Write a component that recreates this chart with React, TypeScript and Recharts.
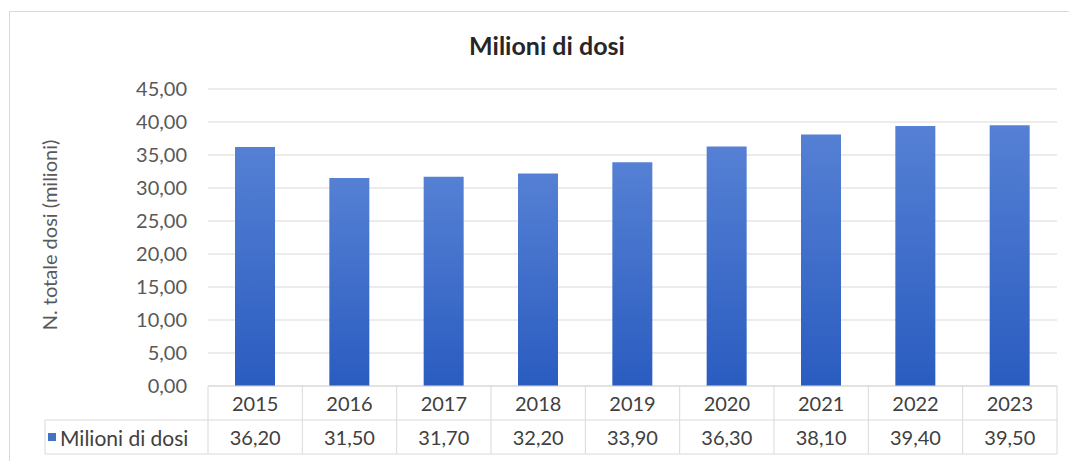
import { BarChart, Bar, XAxis, YAxis, CartesianGrid } from "recharts";

const years = ["2015", "2016", "2017", "2018", "2019", "2020", "2021", "2022", "2023"];
const doses = [36.2, 31.5, 31.7, 32.2, 33.9, 36.3, 38.1, 39.4, 39.5];
const yTicks = [0, 5, 10, 15, 20, 25, 30, 35, 40, 45];
const seriesName = "Milioni di dosi";
const chartTitle = "Milioni di dosi";
const yTitle = "N. totale dosi (milioni)";

const data = years.map((year, i) => ({ year, value: doses[i] }));

const W = 1069;
const H = 461;
const PLOT_LEFT = 208;
const PLOT_RIGHT = 1057;
const CELL_W = (PLOT_RIGHT - PLOT_LEFT) / years.length;
const ROW_H = 34;
const LEGEND_LEFT = 45;
const FONT = "Lato, 'Open Sans', sans-serif";
const LINE = "#d9d9d9";
const TXT = "#404040";

const fmt = (v: number) => v.toFixed(2).replace(".", ",");

function TableTick(props: any) {
  const { x, y, payload, index } = props;
  const left = x - CELL_W / 2;
  const right = x + CELL_W / 2;
  return (
    <g>
      <line x1={left} x2={right} y1={y + ROW_H} y2={y + ROW_H} stroke={LINE} />
      <line x1={left} x2={right} y1={y + ROW_H * 2} y2={y + ROW_H * 2} stroke={LINE} />
      <line x1={right} x2={right} y1={y} y2={y + ROW_H * 2} stroke={LINE} />
      {index === 0 && (
        <g>
          <line x1={left} x2={left} y1={y} y2={y + ROW_H * 2} stroke={LINE} />
          <line x1={LEGEND_LEFT} x2={left} y1={y + ROW_H} y2={y + ROW_H} stroke={LINE} />
          <line x1={LEGEND_LEFT} x2={left} y1={y + ROW_H * 2} y2={y + ROW_H * 2} stroke={LINE} />
          <line x1={LEGEND_LEFT} x2={LEGEND_LEFT} y1={y + ROW_H} y2={y + ROW_H * 2} stroke={LINE} />
          <rect x={LEGEND_LEFT + 3} y={y + ROW_H * 1.5 - 4} width={8} height={8} fill="#4472c4" />
          <text
            x={LEGEND_LEFT + 15}
            y={y + ROW_H * 1.5}
            dominantBaseline="central"
            fontSize={21}
            fontFamily={FONT}
            fill={TXT}
          >
            {seriesName}
          </text>
        </g>
      )}
      <text
        x={x}
        y={y + ROW_H / 2}
        textAnchor="middle"
        dominantBaseline="central"
        fontSize={20}
        fontFamily={FONT}
        fill={TXT}
      >
        {payload.value}
      </text>
      <text
        x={x}
        y={y + ROW_H * 1.5}
        textAnchor="middle"
        dominantBaseline="central"
        fontSize={20}
        fontFamily={FONT}
        fill={TXT}
      >
        {fmt(doses[index])}
      </text>
    </g>
  );
}

export default function App() {
  return (
    <div style={{ position: "absolute", left: 0, top: 0, width: W, height: H, background: "#fff", overflow: "hidden" }}>
      <div
        style={{
          position: "absolute",
          left: 9,
          top: 11,
          width: W,
          height: H,
          border: "1px solid #d9d9d9",
        }}
      />
      <div
        style={{
          position: "absolute",
          left: 0,
          width: 1094,
          top: 30,
          textAlign: "center",
          fontFamily: FONT,
          fontWeight: 700,
          fontSize: 25,
          color: "#262626",
        }}
      >
        {chartTitle}
      </div>
      <div
        style={{
          position: "absolute",
          left: 49,
          top: 235,
          transform: "translate(-50%, -50%) rotate(-90deg)",
          whiteSpace: "nowrap",
          fontFamily: FONT,
          fontSize: 20,
          color: "#595959",
        }}
      >
        {yTitle}
      </div>
      <div style={{ position: "absolute", left: 0, top: 0 }}>
        <BarChart
          width={W}
          height={H}
          data={data}
          margin={{ top: 89, right: W - PLOT_RIGHT, left: 0, bottom: 5 }}
          barSize={40}
        >
          <defs>
            <linearGradient id="barFill" x1="0" y1="0" x2="0" y2="1">
              <stop offset="0%" stopColor="#5580d4" />
              <stop offset="100%" stopColor="#2a5cc0" />
            </linearGradient>
          </defs>
          <CartesianGrid vertical={false} stroke={LINE} />
          <XAxis
            dataKey="year"
            height={70}
            axisLine={{ stroke: LINE }}
            tickLine={false}
            tickSize={0}
            tickMargin={0}
            interval={0}
            tick={<TableTick />}
          />
          <YAxis
            width={PLOT_LEFT}
            domain={[0, 45]}
            ticks={yTicks}
            axisLine={false}
            tickLine={false}
            tickSize={0}
            tickMargin={21}
            tickFormatter={fmt}
            tick={{ fontSize: 20, fontFamily: FONT, fill: "#595959" }}
          />
          <Bar dataKey="value" fill="url(#barFill)" isAnimationActive={false} />
        </BarChart>
      </div>
    </div>
  );
}
